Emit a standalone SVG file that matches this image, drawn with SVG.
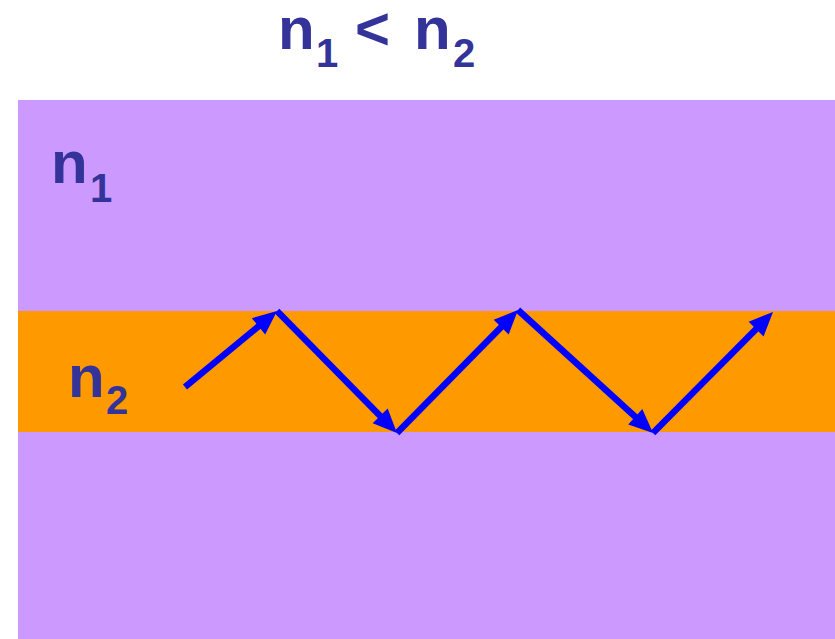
<svg xmlns="http://www.w3.org/2000/svg" width="835" height="639" viewBox="0 0 835 639">
<style>
.lbl{font-family:"Liberation Sans",Arial,sans-serif;font-weight:bold;fill:#333399}
.ray{stroke:#0000FF;stroke-width:6.5;fill:none;marker-end:url(#ah)}
</style>
<defs>
<marker id="ah" markerUnits="userSpaceOnUse" orient="auto" refX="0" refY="0" markerWidth="40" markerHeight="40" viewBox="-20 -20 40 40" overflow="visible">
<path d="M12,0 L-12,-10.5 L-12,10.5 Z" fill="#0000FF"/>
</marker>
</defs>
<rect width="835" height="639" fill="#FFFFFF"/>
<g id="cladding">
<rect x="18" y="100" width="817" height="539" fill="#CC99FF"/>
</g>
<g id="core">
<rect x="18" y="311" width="817" height="121" fill="#FF9900"/>
</g>
<g id="title">
<text class="lbl" font-size="60"><tspan x="278" y="49">n</tspan><tspan font-size="40" x="316" y="67">1</tspan><tspan x="355" y="49">&lt;</tspan><tspan x="414" y="49">n</tspan><tspan font-size="40" x="453" y="67">2</tspan></text>
</g>
<g id="label-n1">
<text class="lbl" font-size="60"><tspan x="51" y="183">n</tspan><tspan font-size="40" x="90" y="202">1</tspan></text>
</g>
<g id="label-n2">
<text class="lbl" font-size="60"><tspan x="68" y="397">n</tspan><tspan font-size="40" x="106" y="414">2</tspan></text>
</g>
<g id="connectors">
<line class="ray" x1="185" y1="387" x2="267.75" y2="318.64"/>
<line class="ray" x1="277" y1="311" x2="388.58" y2="424.44"/>
<line class="ray" x1="397" y1="433" x2="509.58" y2="318.56"/>
<line class="ray" x1="518" y1="310" x2="644.13" y2="424.92"/>
<line class="ray" x1="653" y1="433" x2="764.55" y2="320.52"/>
</g>
</svg>
